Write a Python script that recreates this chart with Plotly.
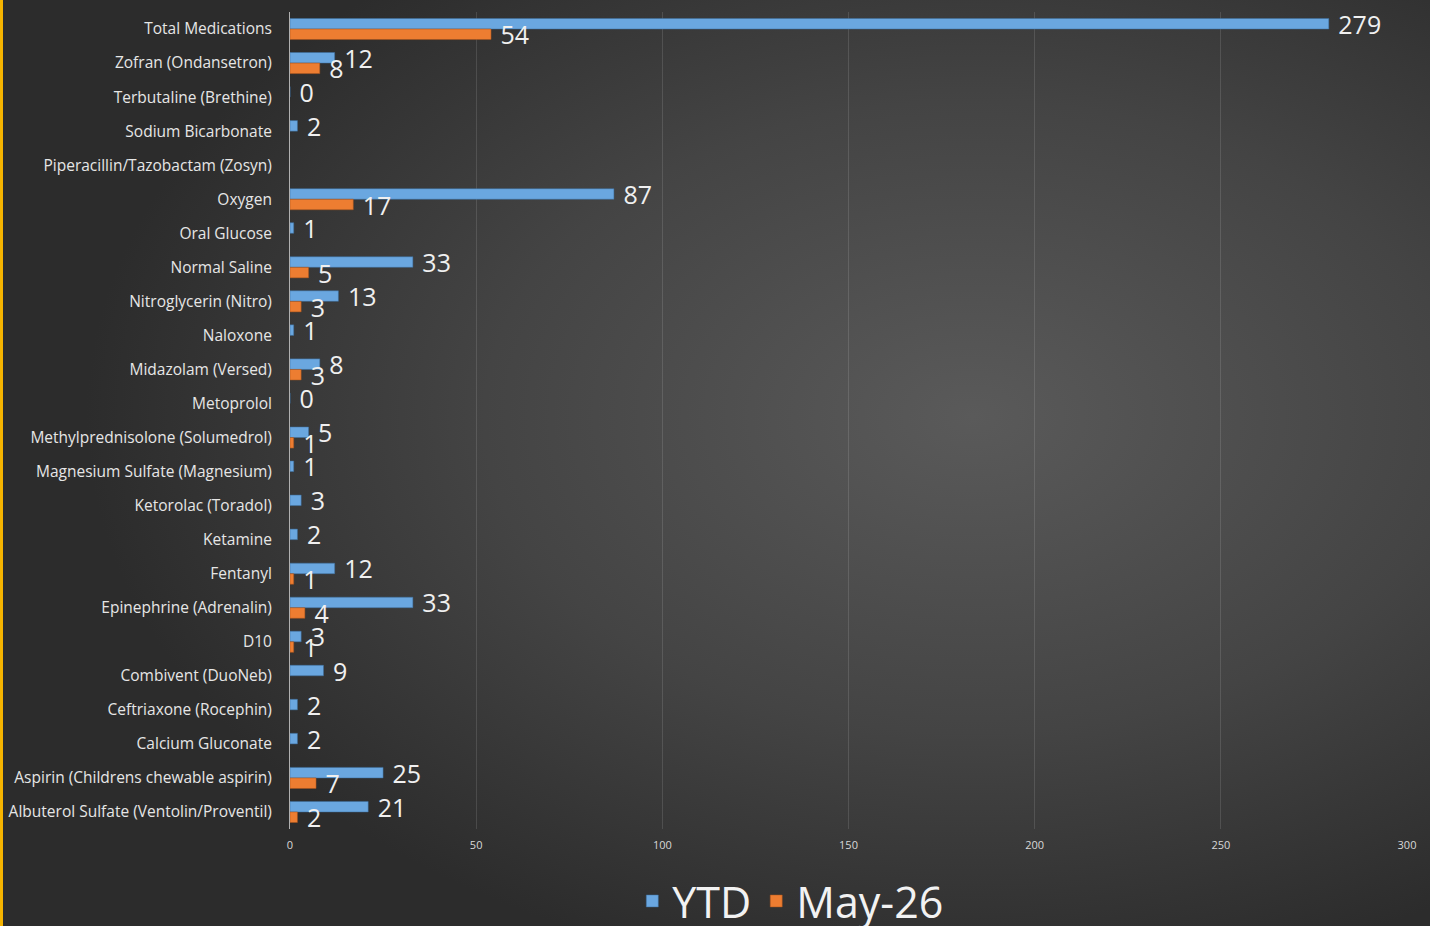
import base64
import plotly.graph_objects as go

categories = [
    "Total Medications",
    "Zofran (Ondansetron)",
    "Terbutaline (Brethine)",
    "Sodium Bicarbonate",
    "Piperacillin/Tazobactam (Zosyn)",
    "Oxygen",
    "Oral Glucose",
    "Normal Saline",
    "Nitroglycerin (Nitro)",
    "Naloxone",
    "Midazolam (Versed)",
    "Metoprolol",
    "Methylprednisolone (Solumedrol)",
    "Magnesium Sulfate (Magnesium)",
    "Ketorolac (Toradol)",
    "Ketamine",
    "Fentanyl",
    "Epinephrine (Adrenalin)",
    "D10",
    "Combivent (DuoNeb)",
    "Ceftriaxone (Rocephin)",
    "Calcium Gluconate",
    "Aspirin (Childrens chewable aspirin)",
    "Albuterol Sulfate (Ventolin/Proventil)",
]
ytd = [279, 12, 0, 2, None, 87, 1, 33, 13, 1, 8, 0, 5, 1, 3, 2, 12, 33, 3, 9, 2, 2, 25, 21]
may26 = [54, 8, None, None, None, 17, None, 5, 3, None, 3, None, 1, None, None, None, 1, 4, 1, None, None, None, 7, 2]
x_ticks = [0, 50, 100, 150, 200, 250, 300]

W, H = 1430, 926
ML, MR, MT, MB = 290, 23, 12, 97
PW, PH = W - ML - MR, H - MT - MB

svg = f'''<svg xmlns="http://www.w3.org/2000/svg" width="{W}" height="{H}" viewBox="0 0 {W} {H}" preserveAspectRatio="none">
<defs><radialGradient id="g" cx="0.68" cy="0.45" r="0.62">
<stop offset="0" stop-color="#5a5a5a"/><stop offset="0.55" stop-color="#444444"/><stop offset="1" stop-color="#2c2c2c"/>
</radialGradient></defs>
<rect x="0" y="0" width="{W}" height="{H}" fill="url(#g)"/>
<rect x="0" y="0" width="3" height="{H}" fill="#f5b400"/>
</svg>'''
bg_src = "data:image/svg+xml;base64," + base64.b64encode(svg.encode()).decode()

label_font = dict(color="#f0f0f0", size=25, family="Open Sans")

fig = go.Figure()
fig.add_trace(go.Bar(
    name="YTD", y=categories, x=ytd, orientation="h",
    marker=dict(color="#6aa7e0", line=dict(color="#3d6f9e", width=0.5)),
    text=ytd, texttemplate=" %{x}", textposition="outside",
    textfont=label_font, constraintext="none", cliponaxis=False,
))
fig.add_trace(go.Bar(
    name="May-26", y=categories, x=may26, orientation="h",
    marker=dict(color="#ed7d31", line=dict(color="#a5531c", width=0.5)),
    text=may26, texttemplate=" %{x}", textposition="outside",
    textfont=label_font, constraintext="none", cliponaxis=False,
))

fig.update_layout(
    width=W, height=H,
    margin=dict(l=ML, r=MR, t=MT, b=MB, autoexpand=False),
    paper_bgcolor="#3c3c3c",
    plot_bgcolor="rgba(0,0,0,0)",
    barmode="group", bargap=0.38, bargroupgap=0,
    font=dict(family="Open Sans", color="#e6e6e6"),
    images=[dict(
        source=bg_src, xref="paper", yref="paper",
        x=-ML / PW, y=1 + MT / PH, sizex=W / PW, sizey=H / PH,
        xanchor="left", yanchor="top", sizing="stretch", layer="below",
    )],
    xaxis=dict(
        range=[0, 300], tickvals=x_ticks, showgrid=True,
        gridcolor="rgba(255,255,255,0.12)", gridwidth=1,
        zeroline=False, showline=False, automargin=False,
        tickfont=dict(size=11, color="#d8d8d8"), ticks="", ticklabelstandoff=8,
    ),
    yaxis=dict(
        autorange="reversed", showline=True, linecolor="#b0b0b0", linewidth=1,
        automargin=False,
        tickfont=dict(size=15.5, color="#e6e6e6"), ticks="", ticklabelstandoff=14,
    ),
    showlegend=True,
    legend=dict(
        orientation="h", xref="container", yref="container",
        x=0.553, y=0.027, xanchor="center", yanchor="middle",
        font=dict(size=43, color="#f2f2f2"), bgcolor="rgba(0,0,0,0)",
    ),
)

fig.write_html(
    "out.html",
    config={"displayModeBar": False},
    post_script="document.body.style.margin='0';document.body.style.overflow='hidden';",
)
